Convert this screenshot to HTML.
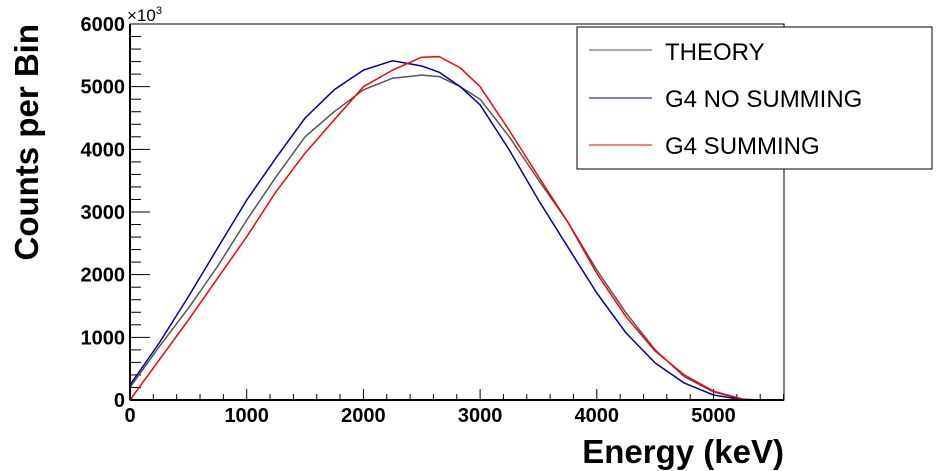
<!DOCTYPE html>
<html><head><meta charset="utf-8">
<style>
html,body{margin:0;padding:0;background:#fff;}
svg{display:block;font-family:"Liberation Sans",Arial,sans-serif;}
</style></head>
<body>
<svg id="chart" width="937" height="471" viewBox="0 0 937 471" xmlns="http://www.w3.org/2000/svg">
<rect x="130" y="24" width="654" height="376" fill="none" stroke="#000" stroke-width="1"/>
<g id="ticks"></g>
<g id="series"></g>
<line x1="130" y1="400" x2="784" y2="400" stroke="#000" stroke-width="2"/>
<line x1="130" y1="24" x2="130" y2="400" stroke="#000" stroke-width="2"/>
<text x="127" y="21" font-size="17">×10<tspan font-size="11" dy="-7">3</tspan></text>
<text x="784" y="463" text-anchor="end" font-size="33" font-weight="bold">Energy (keV)</text>
<text transform="translate(38,24) rotate(-90)" text-anchor="end" font-size="33" font-weight="bold">Counts per Bin</text>
<g>
<rect x="577" y="27" width="355" height="142" fill="#fff" stroke="#000" stroke-width="1"/>
<line x1="589" y1="50" x2="652" y2="50" stroke="#555" stroke-width="1"/>
<text x="665" y="60" font-size="24">THEORY</text>
<line x1="589" y1="98" x2="652" y2="98" stroke="#0000a0" stroke-width="1"/>
<text x="665" y="107" font-size="24">G4 NO SUMMING</text>
<line x1="589" y1="145" x2="652" y2="145" stroke="#f00" stroke-width="1"/>
<text x="665" y="154" font-size="24">G4 SUMMING</text>
</g>
</svg>
<script>
const energies = [0,250,500,750,1000,1250,1500,1750,2000,2250,2500,2650,2830,3000,3250,3500,3750,4000,4250,4500,4750,5000,5250,5400];
const theory   = [200,850,1465,2130,2870,3560,4200,4600,4950,5135,5185,5160,5000,4800,4200,3510,2845,2075,1390,800,372,130,10,0];
const noSumming= [240,910,1650,2420,3190,3860,4500,4950,5265,5415,5330,5230,5000,4710,3990,3190,2447,1707,1070,590,270,80,3,0];
const summing  = [0,640,1277,1940,2606,3320,3940,4470,5000,5265,5470,5480,5300,5000,4300,3565,2845,2020,1330,780,400,140,15,0];
const xTicks = [0,1000,2000,3000,4000,5000];
const yTicks = [0,1000,2000,3000,4000,5000,6000];
const NS='http://www.w3.org/2000/svg';
const X0=130,X1=784,Y0=400,Y1=24,XMAX=5604,YMAX=6000;
const sx=v=>X0+(v/XMAX)*(X1-X0);
const sy=v=>Y0-(v/YMAX)*(Y0-Y1);
const tg=document.getElementById('ticks');
function ln(x1,y1,x2,y2){const l=document.createElementNS(NS,'line');l.setAttribute('x1',x1);l.setAttribute('y1',y1);l.setAttribute('x2',x2);l.setAttribute('y2',y2);l.setAttribute('stroke','#000');l.setAttribute('stroke-width','1');


tg.appendChild(l);}
for(let v=0;v<=XMAX;v+=200){const x=sx(v);const major=v%1000===0;ln(x,Y0,x,Y0-(major?11:6));}
for(let v=0;v<=YMAX;v+=200){const y=sy(v);const major=v%1000===0;ln(X0,y,X0+(major?20:11),y);}
xTicks.forEach(v=>{const t=document.createElementNS(NS,'text');t.setAttribute('x',sx(v));t.setAttribute('y',422);t.setAttribute('text-anchor','middle');t.setAttribute('font-size','20');t.setAttribute('font-weight','bold');t.textContent=v;


tg.appendChild(t);});
yTicks.forEach(v=>{const t=document.createElementNS(NS,'text');t.setAttribute('x',125);t.setAttribute('y',sy(v)+7);t.setAttribute('text-anchor','end');t.setAttribute('font-size','20');t.setAttribute('font-weight','bold');t.textContent=v;


tg.appendChild(t);});
const sg=document.getElementById('series');
function series(vals,color,name){const p=document.createElementNS(NS,'polyline');p.setAttribute('points',vals.map((v,i)=>sx(energies[i]).toFixed(1)+','+sy(v).toFixed(1)).join(' '));p.setAttribute('fill','none');p.setAttribute('stroke',color);p.setAttribute('stroke-width','1.5');p.setAttribute('stroke-linejoin','round');


sg.appendChild(p);}
series(theory,'#555','theory-line');
series(noSumming,'#0000a0','g4-no-summing-line');
series(summing,'#ff0000','g4-summing-line');
</script>
</body></html>
